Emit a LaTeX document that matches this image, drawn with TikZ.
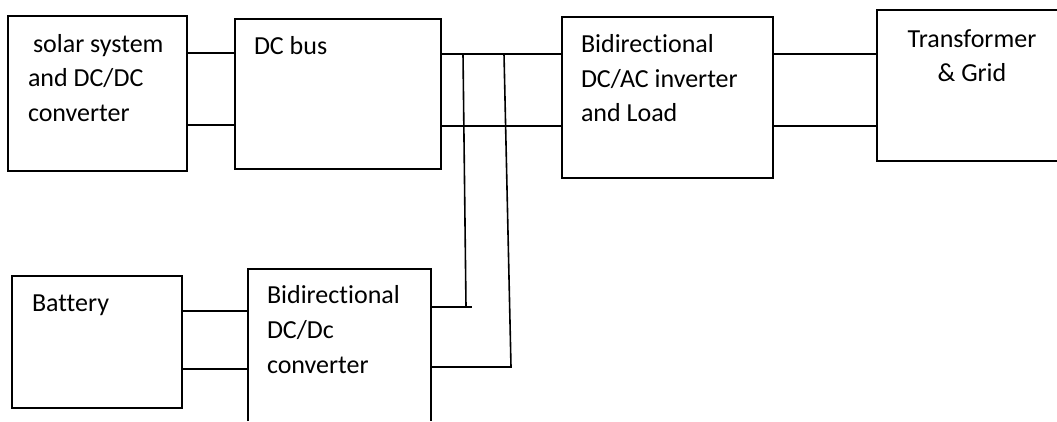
\documentclass[tikz,border=0pt]{standalone}
\usepackage{fontspec}
\setmainfont[Ligatures=NoCommon]{Carlito}
\begin{document}
\begin{tikzpicture}[x=1pt,y=-1pt,
  box/.style={draw=black,line width=1.6pt,rectangle,inner sep=0pt,outer sep=0pt,anchor=north west},
  openbox/.style={draw=none,rectangle,inner sep=0pt,outer sep=0pt,anchor=north west},
  lbl/.style={inner sep=0pt,outer sep=0pt,font=\fontsize{26}{34.5}\selectfont},
  wire/.style={draw=black,line width=1.6pt}]
\path[use as bounding box] (0,0) rectangle (1057,421);
\fill[white] (0,0) rectangle (1057,421);
% boxes
\node[box,minimum width=179pt,minimum height=155pt] (solar) at (8,16) {};
\node[box,minimum width=206pt,minimum height=150pt] (bus) at (235,19) {};
\node[box,minimum width=211pt,minimum height=161pt] (inv) at (562,17) {};
\node[openbox,minimum width=180pt,minimum height=151pt] (tr) at (877,10) {};
\draw[wire] (tr.north east) -- (tr.north west) -- (tr.south west) -- (tr.south east);
\node[box,minimum width=170pt,minimum height=132pt] (bat) at (12,276) {};
\node[openbox,minimum width=183pt,minimum height=152pt] (conv) at (248,269) {};
\draw[wire] (conv.south west) -- (conv.north west) -- (conv.north east) -- (conv.south east);
% texts
\node[lbl,anchor=base west] (t1a) at (33,52) {solar system};
\node[lbl,anchor=base west] (t1b) at (28,86.5) {and DC/DC};
\node[lbl,anchor=base west] (t1c) at (28,121) {converter};
\node[lbl,anchor=base west] (t2a) at (254,54) {DC bus};
\node[lbl,anchor=base west] (t3a) at (581,52) {Bidirectional};
\node[lbl,anchor=base west] (t3b) at (581,87) {DC/AC inverter};
\node[lbl,anchor=base west] (t3c) at (581,121) {and Load};
\node[lbl,anchor=base] (t4a) at (972,47) {Transformer};
\node[lbl,anchor=base] (t4b) at (972,81) {\& Grid};
\node[lbl,anchor=base west] (t5a) at (32,311) {Battery};
\node[lbl,anchor=base west] (t6a) at (267,303) {Bidirectional};
\node[lbl,anchor=base west] (t6b) at (267,338) {DC/Dc};
\node[lbl,anchor=base west] (t6c) at (267,373) {converter};
% junction points
\coordinate (ja) at (463,54);
\coordinate (jb) at (466,307);
\coordinate (jc) at (472,307);
\coordinate (jd) at (504,54);
\coordinate (je) at (511,367);
% connectors
\draw[wire] (solar.east |- 0,53) -- (bus.west |- 0,53);
\draw[wire] (solar.east |- 0,125) -- (bus.west |- 0,125);
\draw[wire] (bus.east |- 0,54) -- (inv.west |- 0,54);
\draw[wire] (bus.east |- 0,126) -- (inv.west |- 0,126);
\draw[wire] (inv.east |- 0,54) -- (tr.west |- 0,54);
\draw[wire] (inv.east |- 0,126) -- (tr.west |- 0,126);
\draw[wire] (bat.east |- 0,311) -- (conv.west |- 0,311);
\draw[wire] (bat.east |- 0,369) -- (conv.west |- 0,369);
\draw[wire] (ja) -- (jb);
\draw[wire] (conv.east |- 0,307) -- (jc);
\draw[wire] (jd) -- (je) -- (conv.east |- 0,367);
\end{tikzpicture}
\end{document}
